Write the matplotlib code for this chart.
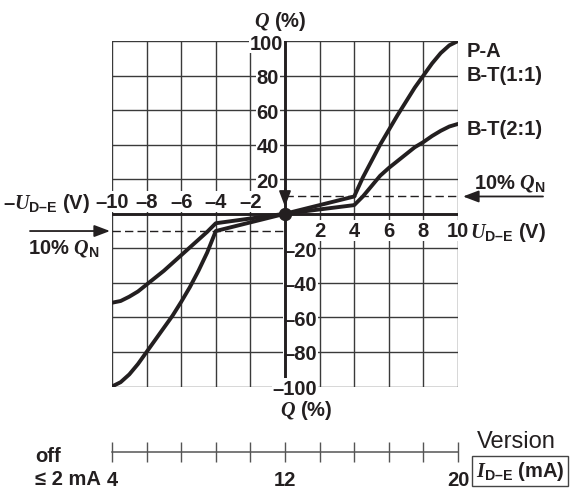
import matplotlib
matplotlib.use("Agg")
import matplotlib.pyplot as plt
from matplotlib import font_manager as fm
from matplotlib.transforms import offset_copy

# values
u_de = [-10, -9.5, -9, -8.5, -8, -7.5, -7, -6.5, -6, -5.5, -5, -4.5, -4, 0,
        4, 4.5, 5, 5.5, 6, 6.5, 7, 7.5, 8, 8.5, 9, 9.5, 10]
q_pa = [-100, -97.5, -93, -87, -80, -73, -66, -59, -51, -42.5, -33, -22.5, -10, 0,
        10, 21, 30.5, 40, 48.5, 57, 65, 73, 80, 87, 93, 97.5, 100]
q_bt21 = [-51.5, -50.5, -48, -45, -41, -37, -33, -28.5, -24, -19.5, -15, -10.5, -5.5, 0,
          5, 10, 16, 22, 26.5, 30.5, 34.5, 38.5, 41.5, 45, 48, 50.5, 52]
u_ticks_neg = [-10, -8, -6, -4, -2]
u_ticks_pos = [2, 4, 6, 8, 10]
q_ticks_pos = [100, 80, 60, 40, 20]
q_ticks_neg = [-20, -40, -60, -80, -100]
qn_level = 10
i_de_labels = [4, 12, 20]
i_de_minor = [4, 5.6, 7.2, 8.8, 10.4, 12, 13.6, 15.2, 16.8, 18.4, 20]
curve_names = ["P-A", "B-T(1:1)", "B-T(2:1)"]

names = {f.name for f in fm.fontManager.ttflist}
FONT = "Liberation Sans Narrow" if "Liberation Sans Narrow" in names else "Liberation Sans"
plt.rcParams["font.family"] = [FONT, "DejaVu Sans"]
plt.rcParams["mathtext.fontset"] = "custom"
plt.rcParams["mathtext.it"] = "Liberation Serif:italic:bold"
plt.rcParams["mathtext.bf"] = FONT + ":bold"
plt.rcParams["mathtext.rm"] = FONT + ":bold"

INK = "#231f20"
GRID = "#3a3a3a"
FS = 14.5
BOLD = dict(fontsize=FS, fontweight="bold", color=INK)
WHITE = dict(facecolor="white", edgecolor="none", pad=0.6)

fig = plt.figure(figsize=(5.77, 4.89), dpi=100)
W, H = 577.0, 489.0
ax = fig.add_axes([112 / W, 1 - 387.5 / H, 346 / W, 345.5 / H])
ax.set_xlim(-10, 10)
ax.set_ylim(-100, 100)
ax.axis("off")

# grid
for x in u_ticks_neg + u_ticks_pos:
    ax.axvline(x, color=GRID, lw=1.0, zorder=1)
for y in q_ticks_neg + q_ticks_pos:
    ax.axhline(y, color=GRID, lw=1.0, zorder=1)

# main axes lines (above the label boxes)
ax.axhline(0, color=INK, lw=2.1, zorder=4.5)
ax.axvline(0, color=INK, lw=2.1, zorder=4.5)

# 10 % Q_N dashed guides
ax.plot([0, 10], [qn_level, qn_level], color=INK, lw=1.0, ls=(0, (6, 3)), zorder=2)
ax.plot([-10, 0], [-qn_level, -qn_level], color=INK, lw=1.0, ls=(0, (6, 3)), zorder=2)

# curves
for q in (q_pa, q_bt21):
    ax.plot(u_de, q, color=INK, lw=2.8, solid_joinstyle="round",
            solid_capstyle="round", zorder=5)
ax.plot(0, 0, "o", ms=8.6, color=INK, zorder=6)

arrow = dict(arrowstyle="-|>,head_length=0.95,head_width=0.36", color=INK, lw=1.3,
             shrinkA=0, shrinkB=0, mutation_scale=10)
ax.annotate("", xy=(0, 0), xycoords=offset_copy(ax.transData, fig=fig, x=0, y=7, units="dots"),
            xytext=(0, 18), textcoords="offset pixels", arrowprops=arrow, zorder=6)
ax.annotate("", xy=(10, qn_level), xycoords=offset_copy(ax.transData, fig=fig, x=5, y=0, units="dots"),
            xytext=(80, 0), textcoords="offset pixels", arrowprops=arrow, annotation_clip=False)
ax.annotate("", xy=(-10, -qn_level), xycoords=offset_copy(ax.transData, fig=fig, x=-2, y=0, units="dots"),
            xytext=(-80, 0), textcoords="offset pixels", arrowprops=arrow, annotation_clip=False)

def label(s, xy, off, ha="center", va="center_baseline", box=False, z=4, **kw):
    props = dict(BOLD)
    props.update(kw)
    ax.annotate(s, xy=xy, xytext=off, textcoords="offset pixels", ha=ha, va=va,
                annotation_clip=False, zorder=z, bbox=WHITE if box else None, **props)

# tick labels
for v in q_ticks_pos:
    label(str(v), (0, v), (-2 if v == 100 else -6, 0), ha="right", box=True)
for v in q_ticks_neg:
    label("–%d" % abs(v), (0, v), (32, 0), ha="right", box=True, z=5 if v == -100 else 4)
for v in u_ticks_neg:
    label("–%d" % abs(v), (v, 0), (0, 14.5), box=True)
for v in u_ticks_pos:
    label(str(v), (v, 0), (0, -14.5), box=True)

# axis titles
label(r"$Q$ (%)", (0, 100), (-5, 24))
label(r"$Q$ (%)", (0, -100), (21, -19.5))
label(r"–$U_{\mathbf{D–E}}$ (V)", (-10, 0), (-22, 14.5), ha="right")
label(r"$U_{\mathbf{D–E}}$ (V)", (10, 0), (12, -14.5), ha="left")
label(r"10% $Q_{\mathbf{N}}$", (10, qn_level), (52, 16.5))
label(r"10% $Q_{\mathbf{N}}$", (-10, -qn_level), (-48.5, -13.5))

# curve names
label(curve_names[0], (10, q_pa[-1]), (9, -7), ha="left")
label(curve_names[1], (10, q_pa[-1]), (9, -31), ha="left")
label(curve_names[2], (10, q_bt21[-1]), (9, -3), ha="left")

# I_D-E scale below
ax2 = fig.add_axes([112 / W, 1 - 453.3 / H, 346 / W, 0.0001])
ax2.set_xlim(i_de_minor[0], i_de_minor[-1])
ax2.set_yticks([])
for s in ("top", "left", "right"):
    ax2.spines[s].set_visible(False)
ax2.spines["bottom"].set_color("#555555")
ax2.spines["bottom"].set_linewidth(1.1)
ax2.set_xticks(i_de_labels)
ax2.set_xticklabels([str(v) for v in i_de_labels], fontsize=FS, fontweight="bold", color=INK)
ax2.set_xticks(i_de_minor, minor=True)
ax2.tick_params(which="both", direction="inout", length=14.4, width=1.0, color="#555555")
ax2.tick_params(which="major", pad=5.5)
ax2.patch.set_visible(False)

fig.text(35 / W, 1 - 455 / H, "off", ha="left", va="center_baseline", **BOLD)
fig.text(35 / W, 1 - 477.5 / H, "≤ 2 mA", ha="left", va="center_baseline", **BOLD)
fig.text(477 / W, 1 - 440 / H, "Version", ha="left", va="center_baseline",
         fontsize=17, color=INK)
fig.text(520 / W, 1 - 469 / H, r"$I_{\mathbf{D–E}}$ (mA)", ha="center", va="center_baseline",
         bbox=dict(boxstyle="square,pad=0.18", facecolor="white", edgecolor="#444444", lw=1.0),
         **BOLD)

fig.savefig("out.png", dpi=100)
